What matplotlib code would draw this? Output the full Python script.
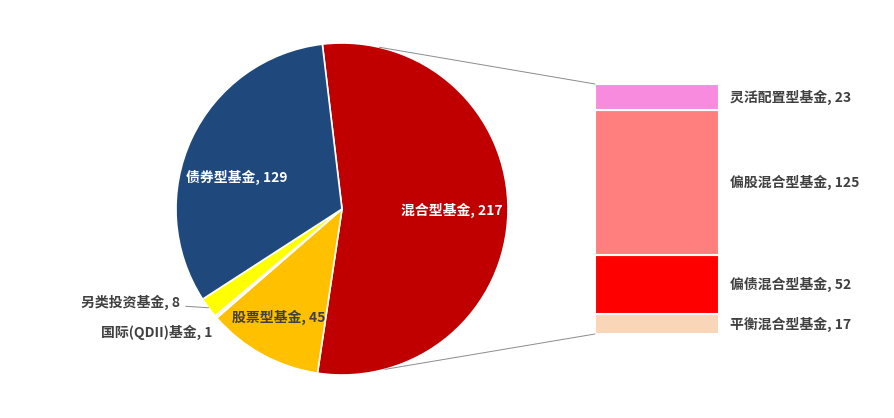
import numpy as np
import matplotlib
matplotlib.use("Agg")
import matplotlib.pyplot as plt
from matplotlib.patches import ConnectionPatch

plt.rcParams['font.family'] = ['Noto Sans CJK SC', 'DejaVu Sans']

# pie data (clockwise from the top)
pie_labels = ["混合型基金", "股票型基金", "国际(QDII)基金", "另类投资基金", "债券型基金"]
pie_values = [217, 45, 1, 8, 129]
pie_colors = ["#C00000", "#FFC000", "#EDEDED", "#FFFF00", "#1F497D"]

# breakdown of 混合型基金 (bottom to top)
bar_labels = ["平衡混合型基金", "偏债混合型基金", "偏股混合型基金", "灵活配置型基金"]
bar_values = [17, 52, 125, 23]
bar_colors = ["#FAD6B8", "#FF0000", "#FF7F7F", "#F98BDF"]

W, H = 894, 418
fig = plt.figure(figsize=(W / 100, H / 100), dpi=100)

# pie axes: center (342, 209), radius 166 px
cx, cy, r = 342, 209, 166
half = 172
ax = fig.add_axes([(cx - half) / W, (H - cy - half) / H, 2 * half / W, 2 * half / H])
start = 96.8
wedges, _ = ax.pie(pie_values, colors=pie_colors, startangle=start, counterclock=False,
                   radius=1, wedgeprops=dict(edgecolor="white", linewidth=1.2))
lim = half / r
ax.set_xlim(-lim, lim)
ax.set_ylim(-lim, lim)
ax.set_aspect("equal")
ax.axis("off")

lab_kw = dict(fontsize=10, fontweight="bold")
ax.text(0.663, -0.006, f"{pie_labels[0]}, {pie_values[0]}", color="white",
        ha="center", va="center", **lab_kw)
ax.text(-0.633, 0.19, f"{pie_labels[4]}, {pie_values[4]}", color="white",
        ha="center", va="center", **lab_kw)
ax.text(-0.383, -0.655, f"{pie_labels[1]}, {pie_values[1]}", color="#404040",
        ha="center", va="center", **lab_kw)

# outside labels for small slices
w_alt = wedges[3]
mid = np.deg2rad((w_alt.theta1 + w_alt.theta2) / 2)
ex, ey = np.cos(mid), np.sin(mid)
ax.annotate(f"{pie_labels[3]}, {pie_values[3]}", xy=(ex, ey), xytext=(-0.975, -0.565),
            ha="right", va="center", color="#404040", **lab_kw,
            arrowprops=dict(arrowstyle="-", color="#8C8C8C", lw=0.7,
                            shrinkA=2, shrinkB=0))
ax.text(-0.78, -0.745, f"{pie_labels[2]}, {pie_values[2]}", color="#404040",
        ha="right", va="center", **lab_kw)

# bar of the split slice
bx0, bx1, by0, by1 = 595, 719, 84, 334
bax = fig.add_axes([bx0 / W, (H - by1) / H, (bx1 - bx0) / W, (by1 - by0) / H])
bottom = 0
for lab, val, col in zip(bar_labels, bar_values, bar_colors):
    bax.bar(0.5, val, width=1, bottom=bottom, color=col, edgecolor="white", linewidth=1.5)
    bax.text(1.09, bottom + val / 2, f"{lab}, {val}", ha="left", va="center",
             color="#404040", clip_on=False, **lab_kw)
    bottom += val
bax.set_xlim(0, 1)
bax.set_ylim(0, sum(bar_values))
bax.axis("off")

# connector lines
for ang, yb in [(77, sum(bar_values)), (-75, 0)]:
    a = np.deg2rad(ang)
    con = ConnectionPatch(xyA=(np.cos(a), np.sin(a)), coordsA=ax.transData,
                          xyB=(0, yb), coordsB=bax.transData,
                          color="#8C8C8C", lw=0.7)
    fig.add_artist(con)

fig.savefig("out.png", dpi=100)
